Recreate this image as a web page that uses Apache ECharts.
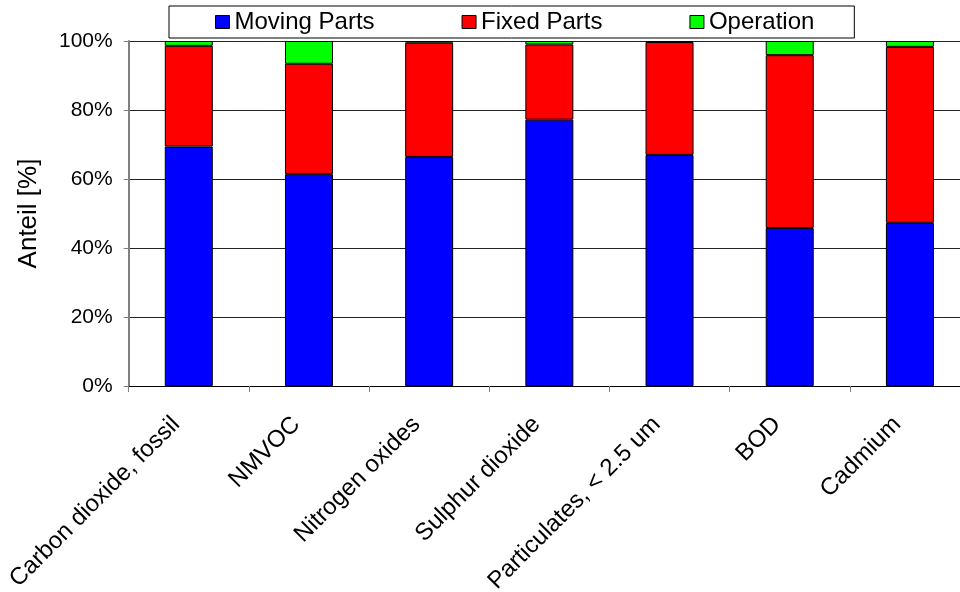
<!DOCTYPE html>
<html>
<head>
<meta charset="utf-8">
<script src="https://cdn.jsdelivr.net/npm/echarts@6/dist/echarts.min.js"></script>
<style>
html,body{margin:0;padding:0;background:#fff;}
#chart{width:960px;height:592px;}
</style>
</head>
<body>
<div id="chart"></div>
<script>
const categories = ["Carbon dioxide, fossil", "NMVOC", "Nitrogen oxides", "Sulphur dioxide", "Particulates, < 2.5 um", "BOD", "Cadmium"];
const movingParts = [69.4, 61.4, 66.4, 77.2, 67.0, 45.8, 47.3];
const fixedParts  = [29.2, 32.0, 33.1, 21.8, 32.7, 50.1, 51.0];
const operation   = [1.4, 6.6, 0.5, 1.0, 0.3, 4.1, 1.7];
const seriesNames = ["Moving Parts", "Fixed Parts", "Operation"];
const yTicks = [0, 20, 40, 60, 80, 100];

const FONT = "'Liberation Sans', Arial, Helvetica, sans-serif";
const colors = ['#0000FF', '#FF0000', '#00FF00'];
const dataSets = [movingParts, fixedParts, operation];

const chart = echarts.init(document.getElementById('chart'), null, {renderer: 'canvas'});
chart.setOption({
  animation: false,
  backgroundColor: '#ffffff',
  textStyle: {fontFamily: FONT, color: '#000'},
  legend: {
    left: 169, top: 6,
    padding: [4, 40, 4, 46],
    itemGap: 87,
    itemWidth: 14, itemHeight: 13,
    icon: 'rect',
    borderColor: '#000', borderWidth: 1,
    backgroundColor: '#fff',
    itemStyle: {borderColor: '#000', borderWidth: 1},
    textStyle: {fontFamily: FONT, fontSize: 24, color: '#000'},
    data: seriesNames
  },
  grid: {left: 128.7, right: -10, top: 41, bottom: 206, containLabel: false, outerBoundsMode: 'none'},
  xAxis: {
    type: 'category',
    data: categories,
    axisLine: {lineStyle: {color: '#000', width: 1}},
    axisTick: {show: true, length: 6, lineStyle: {color: '#808080', width: 1}},
    axisLabel: {rotate: 45, margin: 22, padding: [0, 18, 0, 0], fontSize: 24, fontFamily: FONT, color: '#000', interval: 0}
  },
  yAxis: {
    type: 'value',
    min: 0, max: 100, interval: 20,
    name: 'Anteil [%]',
    nameLocation: 'middle',
    nameGap: 87,
    nameTextStyle: {fontSize: 26, fontFamily: FONT, color: '#000'},
    axisLine: {show: true, lineStyle: {color: '#808080', width: 2}},
    axisTick: {show: true, inside: false, length: 5, lineStyle: {color: '#808080'}},
    axisLabel: {formatter: function(v){ return yTicks.indexOf(v) >= 0 ? v + '%' : ''; }, margin: 16, fontSize: 21, fontFamily: FONT, color: '#000'},
    splitLine: {show: true, lineStyle: {color: '#222', width: 1}}
  },
  series: seriesNames.map((n, i) => ({
    name: n,
    type: 'bar',
    stack: 'total',
    barWidth: 48,
    data: dataSets[i],
    itemStyle: {color: colors[i], borderColor: '#000', borderWidth: 1}
  }))
});
</script>
</body>
</html>
